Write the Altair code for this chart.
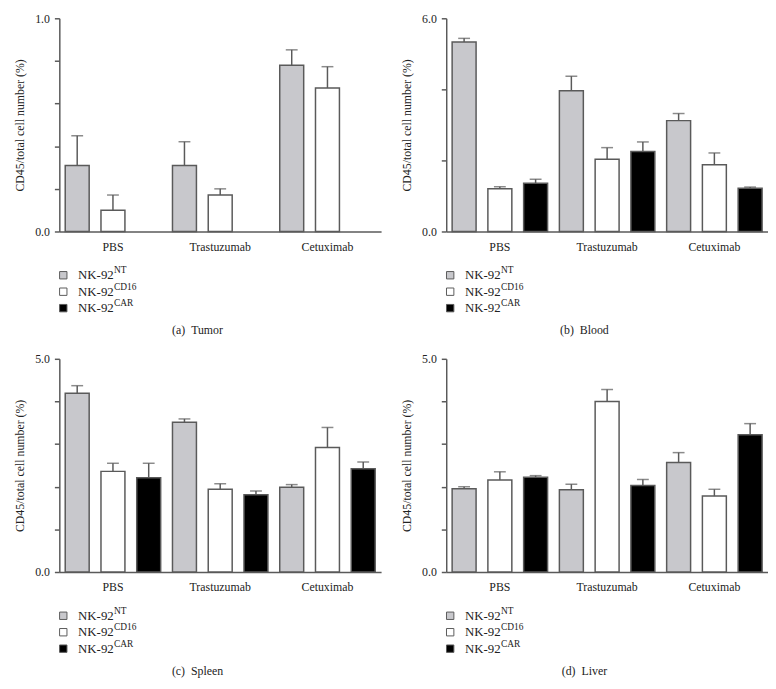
import altair as alt
import pandas as pd

FONT = "Liberation Serif"

groups = ["PBS", "Trastuzumab", "Cetuximab"]
series = ["NT", "CD16", "CAR"]
series_colors = ["#c8c8cc", "#ffffff", "#000000"]

# Panel values: order PBS(NT,CD16,CAR), Trastuzumab(...), Cetuximab(...)
tumor_mean = [0.31, 0.10, None, 0.31, 0.171, None, 0.78, 0.673, None]
tumor_upper = [0.449, 0.171, None, 0.421, 0.20, None, 0.852, 0.773, None]

blood_mean = [5.33, 1.20, 1.36, 3.96, 2.03, 2.25, 3.12, 1.88, 1.22]
blood_upper = [5.435, 1.26, 1.47, 4.37, 2.36, 2.52, 3.32, 2.21, 1.25]

spleen_mean = [4.19, 2.36, 2.21, 3.51, 1.94, 1.81, 1.99, 2.92, 2.42]
spleen_upper = [4.37, 2.55, 2.55, 3.59, 2.07, 1.90, 2.05, 3.39, 2.58]

liver_mean = [1.95, 2.16, 2.22, 1.93, 4.00, 2.03, 2.57, 1.78, 3.22]
liver_upper = [2.00, 2.35, 2.26, 2.06, 4.28, 2.17, 2.80, 1.94, 3.48]

panels = [
    ("(a)\u2002Tumor", tumor_mean, tumor_upper, 1.0, [0, 0.2, 0.4, 0.6, 0.8, 1.0]),
    ("(b)\u2002Blood", blood_mean, blood_upper, 6.0, [0, 2, 4, 6]),
    ("(c)\u2002Spleen", spleen_mean, spleen_upper, 5.0, [0, 1, 2, 3, 4, 5]),
    ("(d)\u2002Liver", liver_mean, liver_upper, 5.0, [0, 1, 2, 3, 4, 5]),
]

W, H = 326, 216
AX = "#5a5a5a"


def bar_panel(mean, upper, ymax, ticks):
    rows = []
    i = 0
    for g in groups:
        for s in series:
            if mean[i] is not None:
                rows.append({"group": g, "series": s, "value": mean[i], "upper": upper[i]})
            i += 1
    df = pd.DataFrame(rows)
    x = alt.X("group:N", sort=groups,
              scale=alt.Scale(paddingInner=0, paddingOuter=0),
              axis=alt.Axis(title=None, labelAngle=0, ticks=False, domainColor=AX,
                            domainWidth=1.5, labelFontSize=12, labelFont=FONT,
                            labelColor="#222", labelPadding=10))
    xo = alt.XOffset("series:N", sort=series,
                     scale=alt.Scale(domain=series, paddingInner=0.33, paddingOuter=0.165))
    y = alt.Y("value:Q",
              scale=alt.Scale(domain=[0, ymax], nice=False, zero=True),
              axis=alt.Axis(title="CD45/total cell number (%)", values=ticks,
                            labelExpr=f"(datum.value == 0 || datum.value == {ymax}) ? format(datum.value, '.1f') : ''",
                            grid=False, domainColor=AX, domainWidth=1.5, tickColor=AX,
                            tickWidth=1.5, tickSize=5, labelPadding=5,
                            labelFontSize=12, labelFont=FONT, labelColor="#222",
                            titleFont=FONT, titleFontSize=12, titleFontWeight="normal",
                            titleColor="#222", titlePadding=8))
    base = alt.Chart(df)
    bars = base.mark_bar(stroke=AX, strokeWidth=1.5).encode(
        x=x, xOffset=xo, y=y,
        color=alt.Color("series:N", scale=alt.Scale(domain=series, range=series_colors), legend=None),
    )
    stem = base.mark_rule(color=AX, strokeWidth=1.5).encode(
        x=x, xOffset=xo, y=alt.Y("value:Q"), y2="upper:Q")
    cap = base.mark_tick(color=AX, thickness=1.5, size=12, orient="horizontal").encode(
        x=x, xOffset=xo, y=alt.Y("upper:Q"))
    return alt.layer(bars, stem, cap).properties(width=W, height=H)


def legend_panel():
    ldf = pd.DataFrame({"series": series, "main": ["NK-92"] * 3, "sup": series})
    y = alt.Y("series:N", sort=series, axis=None, scale=alt.Scale(paddingInner=0, paddingOuter=0))
    base = alt.Chart(ldf)
    sq = base.mark_square(size=56, stroke=AX, strokeWidth=1, opacity=1).encode(
        x=alt.value(4), y=y,
        fill=alt.Fill("series:N", scale=alt.Scale(domain=series, range=series_colors), legend=None))
    main = base.mark_text(align="left", baseline="middle", font=FONT, fontSize=13, color="#222").encode(
        x=alt.value(19), y=y, text="main:N")
    sup = base.mark_text(align="left", baseline="middle", font=FONT, fontSize=9.5, color="#222", dy=-5).encode(
        x=alt.value(55.5), y=y, text="sup:N")
    return alt.layer(sq, main, sup).properties(width=W, height=50)


def panel(caption, mean, upper, ymax, ticks):
    return alt.vconcat(
        bar_panel(mean, upper, ymax, ticks),
        legend_panel(),
        spacing=13,
        title=alt.TitleParams(caption, orient="bottom", anchor="middle", frame="bounds",
                              fontSize=12, font=FONT, fontWeight="normal", color="#222", offset=9),
    )


ps = [panel(*p) for p in panels]
chart = alt.vconcat(
    alt.hconcat(ps[0], ps[1], spacing=20),
    alt.hconcat(ps[2], ps[3], spacing=20),
    spacing=17,
).properties(
    padding={"left": 6, "top": 0, "right": 0, "bottom": 0}
).configure_view(stroke=None)

chart.save("out.html", embed_options={"renderer": "svg", "actions": False})
